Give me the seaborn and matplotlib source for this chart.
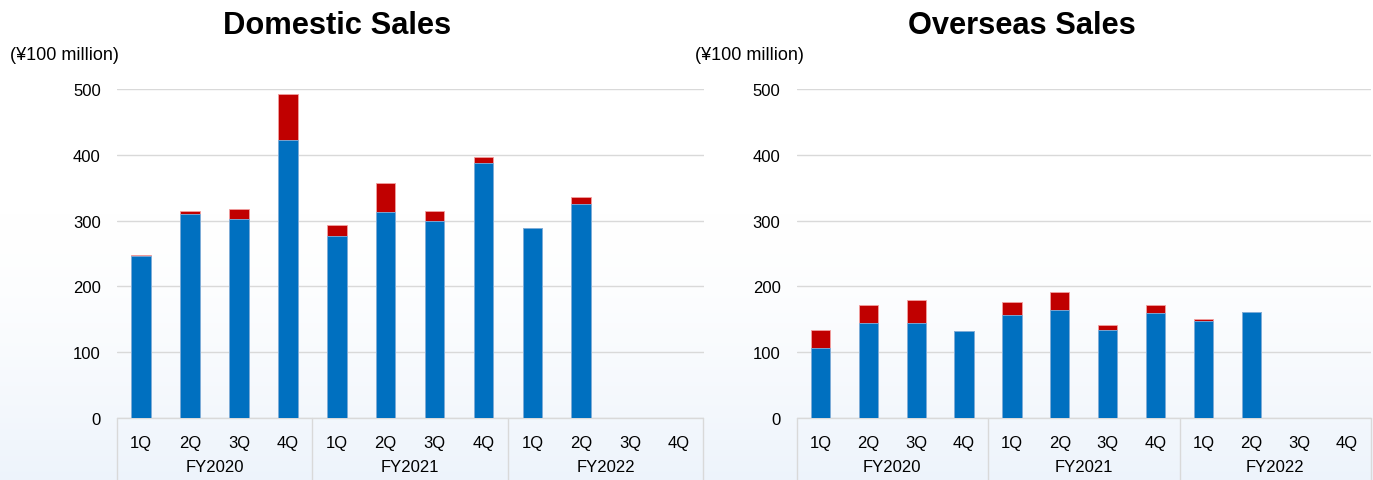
import numpy as np
import pandas as pd
import matplotlib
matplotlib.use("Agg")
import matplotlib.pyplot as plt
import matplotlib.transforms as mtransforms
import seaborn as sns

# ---- data ----
years = ["FY2020", "FY2021", "FY2022"]
quarters = ["1Q", "2Q", "3Q", "4Q"]
periods = [f"{y} {q}" for y in years for q in quarters]

dom_base = [246, 310, 302, 422, 277, 313, 299, 387, 288, 325]
dom_extra = [2, 4, 15, 70, 16, 44, 15, 10, 1, 11]
ovs_base = [106, 145, 144, 132, 157, 164, 134, 159, 147, 161]
ovs_extra = [28, 27, 35, 0, 19, 27, 7, 13, 4, 0]

titles = ["Domestic Sales", "Overseas Sales"]
unit_label = "(¥100 million)"
yticks = [0, 100, 200, 300, 400, 500]

BLUE = "#0070C0"
RED = "#C00000"
GRID = "#D9D9D9"

sns.set_theme(style="white")
plt.rcParams["font.family"] = ["Liberation Sans", "DejaVu Sans"]

W, H = 1373, 481
fig = plt.figure(figsize=(W / 100, H / 100), dpi=100)

# background gradient
bg = fig.add_axes([0, 0, 1, 1], zorder=-10)
grad = np.linspace(0, 1, 256)
top = np.array([1.0, 1.0, 1.0])
bot = np.array([0.93, 0.955, 0.985])
w = np.clip((grad - 0.45) / 0.55, 0, 1) ** 1.5
img = (top[None, :] * (1 - w[:, None]) + bot[None, :] * w[:, None])[:, None, :]
bg.imshow(img, aspect="auto", extent=[0, 1, 0, 1], origin="upper")
bg.axis("off")


def px_axes(x0, x1, y_top, y_bot):
    return fig.add_axes([x0 / W, (H - y_bot) / H, (x1 - x0) / W, (y_bot - y_top) / H])


specs = [
    dict(base=dom_base, extra=dom_extra, x0=116.7, x1=703.5, title_x=337, unit_x=10),
    dict(base=ovs_base, extra=ovs_extra, x0=796.5, x1=1371, title_x=1022, unit_x=695),
]

for spec, title in zip(specs, titles):
    ax = px_axes(spec["x0"], spec["x1"], 90, 419)
    ax.set_facecolor("none")
    n = len(spec["base"])
    df = pd.DataFrame({
        "period": periods[:n],
        "base": spec["base"],
        "total": [b + e for b, e in zip(spec["base"], spec["extra"])],
    })
    sns.barplot(data=df, x="period", y="total", order=periods, color=RED,
                width=0.4, saturation=1, edgecolor="#F2A0A0", linewidth=0.6, ax=ax, zorder=3)
    sns.barplot(data=df, x="period", y="base", order=periods, color=BLUE,
                width=0.4, saturation=1, edgecolor="#7FB4E0", linewidth=0.6, ax=ax, zorder=4)

    ax.set_xlim(-0.5, 11.5)
    ax.set_ylim(0, 500)
    ax.set_yticks(yticks)
    ax.set_yticklabels([str(v) for v in yticks], fontsize=12, color="#000000")
    ax.yaxis.grid(True, color=GRID, linewidth=1)
    ax.set_axisbelow(True)
    ax.tick_params(axis="y", length=0, pad=11.5)
    ax.tick_params(axis="x", length=0, pad=12)
    ax.set_xticks(range(len(periods)))
    ax.set_xticklabels([p.split()[1] for p in periods], fontsize=12, color="#000000")
    ax.set_xlabel("")
    ax.set_ylabel("")
    for s in ["left", "right", "top", "bottom"]:
        ax.spines[s].set_visible(False)

    # category box below the axis
    trans = mtransforms.blended_transform_factory(ax.transData, ax.transAxes)
    box_h = (481 - 419) / (419 - 90)
    ax.plot([-0.5, 11.5], [0, 0], transform=trans, color=GRID, lw=1, clip_on=False)
    for g in range(len(years) + 1):
        xg = -0.5 + 4 * g
        ax.plot([xg, xg], [0, -box_h], transform=trans, color=GRID, lw=1, clip_on=False)
    for g, yname in enumerate(years):
        ax.text(1.5 + 4 * g, -(468 - 419) / (419 - 90), yname, transform=trans,
                ha="center", va="center", fontsize=12, color="#000000")

    fig.text(spec["title_x"] / W, 1 - 26 / H, title, ha="center", va="center",
             fontsize=22.2, fontweight="bold", color="#000000")
    fig.text(spec["unit_x"] / W, 1 - 56 / H, unit_label, ha="left", va="center",
             fontsize=13, color="#000000")

fig.savefig("out.png", dpi=100)
